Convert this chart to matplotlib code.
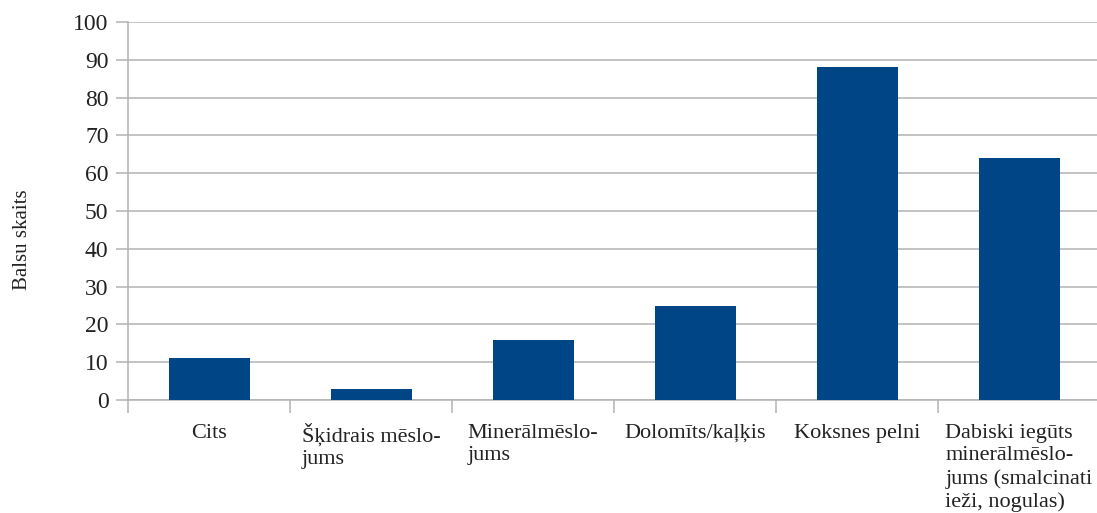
import matplotlib
import matplotlib.pyplot as plt

matplotlib.use("Agg")

categories = ["Cits", "Šķidrais mēslo-\njums", "Minerālmēslo-\njums", "Dolomīts/kaļķis",
              "Koksnes pelni", "Dabiski iegūts\nminerālmēslo-\njums (smalcinati\nieži, nogulas)"]
votes = [11, 3, 16, 25, 88, 64]
y_ticks = list(range(0, 101, 10))

plt.rcParams['font.family'] = ['Liberation Serif', 'DejaVu Serif']

fig = plt.figure(figsize=(10.97, 5.13), dpi=100)
ax = fig.add_axes([128 / 1097, 1 - 400 / 513, 972 / 1097, 378 / 513])

x = list(range(len(categories)))
ax.bar(x, votes, width=0.5, color='#004586', zorder=3)

ax.set_xlim(-0.5, len(categories) - 0.5)
ax.set_ylim(0, 100)
ax.set_yticks(y_ticks)
ax.yaxis.grid(True, color='#b3b3b3', linewidth=1.1, zorder=0)

# category boundaries as ticks, names centred between them
ax.set_xticks([i - 0.5 for i in range(len(categories) + 1)])
ax.set_xticklabels([])
ax.set_xticks(x, minor=True)
ax.set_xticklabels(categories, minor=True, fontsize=16, color='#222222',
                   multialignment='left', linespacing=1.25)
ax.tick_params(axis='x', which='major', length=9, width=1.1, color='#b3b3b3')
ax.tick_params(axis='x', which='minor', length=0, pad=17)
ax.tick_params(axis='y', length=9, width=1.1, color='#b3b3b3', pad=5,
               labelsize=17, labelcolor='#222222')

for side in ['top', 'right']:
    ax.spines[side].set_visible(False)
for side in ['left', 'bottom']:
    ax.spines[side].set_color('#b3b3b3')
    ax.spines[side].set_linewidth(1.1)

ax.set_ylabel('Balsu skaits', fontsize=15, color='#222222')
ax.yaxis.set_label_coords(-0.099, 0.423)

fig.savefig('out.png', dpi=100)
